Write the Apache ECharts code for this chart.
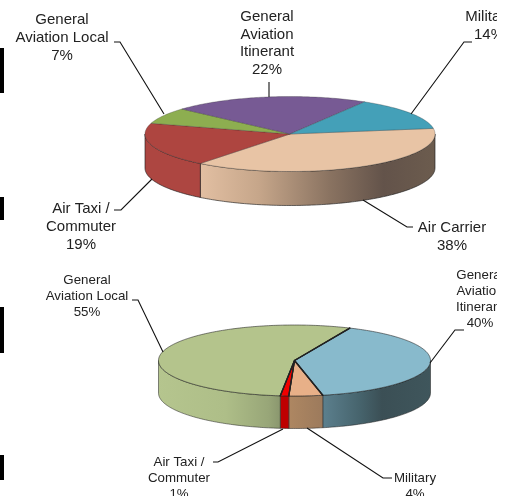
<!DOCTYPE html>
<html>
<head>
<meta charset="utf-8">
<style>
  html, body { margin: 0; padding: 0; background: #fff; }
  #main { width: 511px; height: 496px; }
</style>
<script src="https://cdn.jsdelivr.net/npm/echarts@6/dist/echarts.min.js"></script>
</head>
<body>
<div id="main"></div>
<script>
// upper pie
var topNames = ['Air Carrier', 'Air Taxi /\nCommuter', 'General\nAviation Local', 'General\nAviation\nItinerant', 'Military'];
var topValues = [38, 19, 7, 22, 14];
// lower pie
var lowNames = ['General\nAviation\nItinerant', 'Military', 'Air Taxi /\nCommuter', 'General\nAviation Local'];
var lowValues = [40, 4, 1, 55];

var topGeo = { cx: 290, cy: 134, rx: 145, ry: 37.5, depth: 34, start: -8.6, faceLine: 'rgba(40,40,40,0.4)', faceWidth: 0.7, wallLine: 'rgba(30,30,30,0.8)', radial: 0 };
var lowGeo = { cx: 294.5, cy: 360.5, rx: 136, ry: 35.5, depth: 32.5, start: -66, faceLine: 'rgba(30,30,30,0.7)', faceWidth: 0.8, wallLine: 'rgba(30,30,30,0.65)', radial: 1.3 };

function wallFill(stops) {
  return {
    type: 'linear', x: 0, y: 0, x2: 1, y2: 0,
    colorStops: stops.map(function (s) { return { offset: s[0], color: s[1] }; })
  };
}

var topStyles = [
  { top: '#E8C4A5', wall: wallFill([[0, '#E2BFA2'], [0.25, '#C6A68A'], [0.55, '#8A7361'], [0.78, '#63534A'], [1, '#6C5C4E']]) },
  { top: '#AE4540', wall: '#AD4641' },
  { top: '#8DAE50', wall: '#7F9C48' },
  { top: '#775A94', wall: '#6A5084' },
  { top: '#44A0B8', wall: '#3A8AA0' }
];
var lowStyles = [
  { top: '#88BACC', wall: wallFill([[0, '#5C808E'], [0.35, '#46636C'], [0.55, '#3B4F55'], [1, '#3F565C']]) },
  { top: '#E8B088', wall: wallFill([[0, '#AE8762'], [1, '#9C7A5C']]) },
  { top: '#F00000', wall: '#BE0000' },
  { top: '#B4C48C', wall: wallFill([[0, '#B5C58E'], [0.55, '#AEBE88'], [0.9, '#98A678'], [1, '#8A966E']]) }
];

function arcPoints(g, a0, a1, dy) {
  var pts = [];
  var n = Math.max(2, Math.ceil(Math.abs(a1 - a0)));
  for (var i = 0; i <= n; i++) {
    var t = (a0 + (a1 - a0) * i / n) * Math.PI / 180;
    pts.push([g.cx + g.rx * Math.cos(t), g.cy + g.ry * Math.sin(t) + dy]);
  }
  return pts;
}

function pieSeries(values, geo, styles) {
  var total = values.reduce(function (a, b) { return a + b; }, 0);
  return {
    type: 'custom',
    coordinateSystem: 'none',
    silent: true,
    data: values.map(function (v) { return [v]; }),
    renderItem: function (params, api) {
      var idx = params.dataIndex;
      var before = 0;
      for (var i = 0; i < idx; i++) before += values[i];
      var a0 = geo.start + before / total * 360;
      var a1 = a0 + api.value(0) / total * 360;
      var st = styles[idx];
      var children = [];
      // the wall only shows for the part of the rim that faces us (0..180 deg)
      [0, 360].forEach(function (off) {
        var w0 = Math.max(a0 - off, 0), w1 = Math.min(a1 - off, 180);
        if (w1 > w0) {
          var upper = arcPoints(geo, w0, w1, 0);
          var lower = arcPoints(geo, w1, w0, geo.depth);
          children.push({
            type: 'polygon',
            shape: { points: upper.concat(lower) },
            style: { fill: st.wall, stroke: geo.wallLine, lineWidth: 0.8, lineJoin: 'round' }
          });
        }
      });
      var arc = arcPoints(geo, a0, a1, 0);
      children.push({
        type: 'polygon',
        shape: { points: [[geo.cx, geo.cy]].concat(arc) },
        style: { fill: st.top, stroke: geo.faceLine, lineWidth: geo.faceWidth, lineJoin: 'round' }
      });
      if (geo.radial) {
        children.push({
          type: 'polyline', z2: 5,
          shape: { points: [arc[0], [geo.cx, geo.cy], arc[arc.length - 1]] },
          style: { fill: null, stroke: '#222', lineWidth: geo.radial, lineJoin: 'round', lineCap: 'round' }
        });
      }
      return { type: 'group', children: children };
    }
  };
}

function label(names, values, i, x, y, size, lh) {
  return {
    type: 'text', z: 50, x: x, y: y,
    style: {
      text: names[i] + '\n' + values[i] + '%',
      fill: '#222', align: 'center', verticalAlign: 'top',
      fontFamily: 'Liberation Sans', fontSize: size, lineHeight: lh
    }
  };
}

function leader(points) {
  return {
    type: 'polyline', z: 40,
    shape: { points: points },
    style: { stroke: '#111', lineWidth: 1.1, fill: null }
  };
}

function block(y0, y1) {
  return { type: 'rect', z: 60, shape: { x: 0, y: y0, width: 4, height: y1 - y0 }, style: { fill: '#000' } };
}

var chart = echarts.init(document.getElementById('main'));
chart.setOption({
  backgroundColor: '#fff',
  animation: false,
  series: [
    pieSeries(topValues, topGeo, topStyles),
    pieSeries(lowValues, lowGeo, lowStyles)
  ],
  graphic: [
    label(topNames, topValues, 0, 452, 219, 15, 18),
    label(topNames, topValues, 1, 81, 200, 15, 18),
    label(topNames, topValues, 2, 62, 11, 15, 18),
    label(topNames, topValues, 3, 267, 8, 15, 17.7),
    label(topNames, topValues, 4, 489, 8, 15, 18),
    label(lowNames, lowValues, 0, 480, 267, 13.3, 16),
    label(lowNames, lowValues, 1, 415, 470, 13.3, 16),
    label(lowNames, lowValues, 2, 179, 454, 13.3, 16),
    label(lowNames, lowValues, 3, 87, 272, 13.3, 16),
    leader([[114, 42], [120, 42], [164, 114]]),
    leader([[269, 82], [269, 97]]),
    leader([[472, 42], [464, 42], [411, 114]]),
    leader([[413, 227], [407, 227], [363, 200]]),
    leader([[114, 210], [121, 210], [152, 179]]),
    leader([[132, 300], [138, 300], [163, 352]]),
    leader([[464, 330], [455, 330], [430, 363]]),
    leader([[392, 478], [383, 478], [307, 428]]),
    leader([[213, 462], [218, 462], [283, 429]]),
    block(48, 93),
    block(197, 220),
    block(307, 353),
    block(455, 480),
    // the source picture is cropped on the right
    { type: 'rect', z: 70, shape: { x: 497, y: 0, width: 14, height: 496 }, style: { fill: '#fff' } }
  ]
});
</script>
</body>
</html>
